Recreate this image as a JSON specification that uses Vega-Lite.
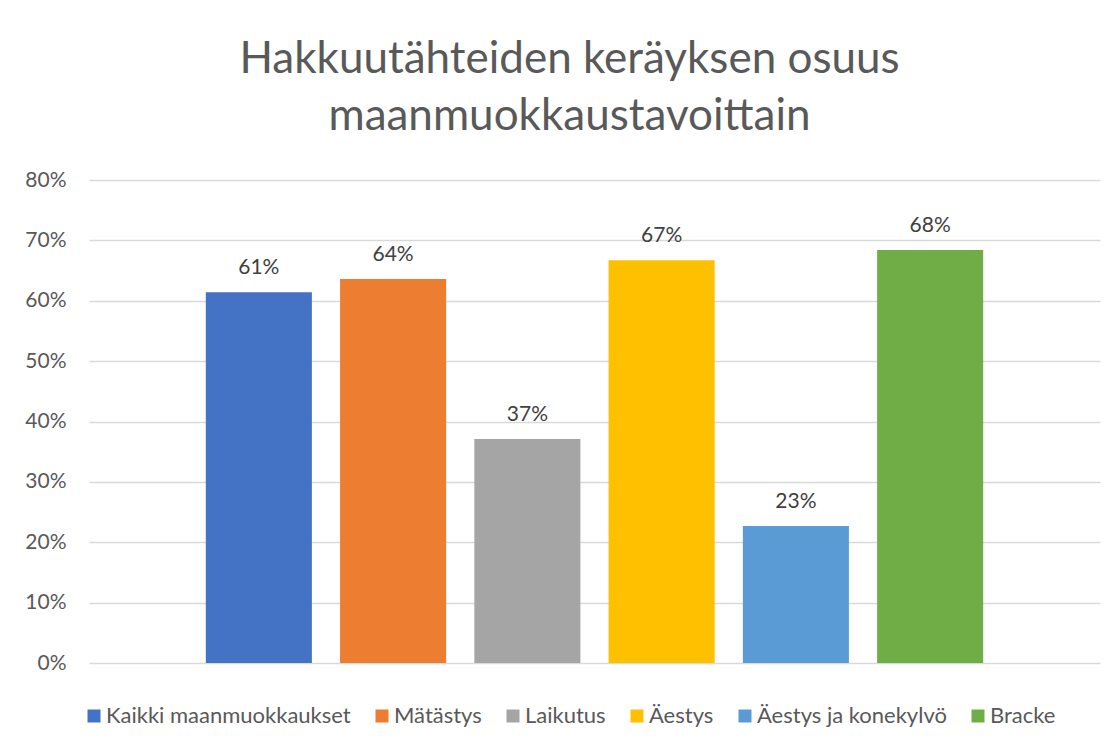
{
  "$schema": "https://vega.github.io/schema/vega-lite/v6.json",
  "width": 1011,
  "height": 483,
  "autosize": {"type": "none"},
  "padding": {"left": 89, "top": 180, "right": 19, "bottom": 83},
  "background": "white",
  "config": {
    "font": "Lato",
    "view": {"stroke": null}
  },
  "title": {
    "text": ["Hakkuutähteiden keräyksen osuus", "maanmuokkaustavoittain"],
    "anchor": "middle",
    "frame": "group",
    "dx": -25,
    "offset": 30,
    "fontSize": 44,
    "font": "Lato",
    "fontWeight": "normal",
    "color": "#595959",
    "lineHeight": 57
  },
  "data": {
    "values": [
      {"Maanmuokkaus": "Kaikki maanmuokkaukset", "Osuus": 0.614},
      {"Maanmuokkaus": "Mätästys", "Osuus": 0.636},
      {"Maanmuokkaus": "Laikutus", "Osuus": 0.371},
      {"Maanmuokkaus": "Äestys", "Osuus": 0.667},
      {"Maanmuokkaus": "Äestys ja konekylvö", "Osuus": 0.227},
      {"Maanmuokkaus": "Bracke", "Osuus": 0.684}
    ]
  },
  "encoding": {
    "x": {
      "field": "Maanmuokkaus",
      "type": "nominal",
      "sort": null,
      "axis": null,
      "scale": {"paddingInner": 0.21, "paddingOuter": 0.87}
    },
    "y": {
      "field": "Osuus",
      "type": "quantitative",
      "scale": {"domain": [0, 0.8]},
      "axis": {
        "title": null,
        "values": [0, 0.1, 0.2, 0.3, 0.4, 0.5, 0.6, 0.7, 0.8],
        "format": ".0%",
        "domain": false,
        "ticks": false,
        "labelPadding": 23,
        "labelFontSize": 21,
        "labelColor": "#595959",
        "gridColor": "#d9d9d9",
        "gridWidth": 1.5
      }
    }
  },
  "layer": [
    {
      "mark": {"type": "bar"},
      "encoding": {
        "color": {
          "field": "Maanmuokkaus",
          "type": "nominal",
          "sort": null,
          "scale": {"range": ["#4472C4", "#ED7D31", "#A5A5A5", "#FFC000", "#5B9BD5", "#70AD47"]},
          "legend": {
            "title": null,
            "orient": "none",
            "direction": "horizontal",
            "columns": 6,
            "legendX": -6,
            "legendY": 525,
            "symbolType": "square",
            "symbolSize": 169,
            "symbolStrokeWidth": 0,
            "labelFontSize": 22,
            "labelColor": "#595959",
            "labelOffset": 1,
            "columnPadding": 20,
            "labelLimit": 400
          }
        }
      }
    },
    {
      "mark": {"type": "text", "baseline": "alphabetic", "dy": -18, "fontSize": 21, "color": "#404040"},
      "encoding": {
        "text": {"field": "Osuus", "type": "quantitative", "format": ".0%"}
      }
    }
  ]
}
